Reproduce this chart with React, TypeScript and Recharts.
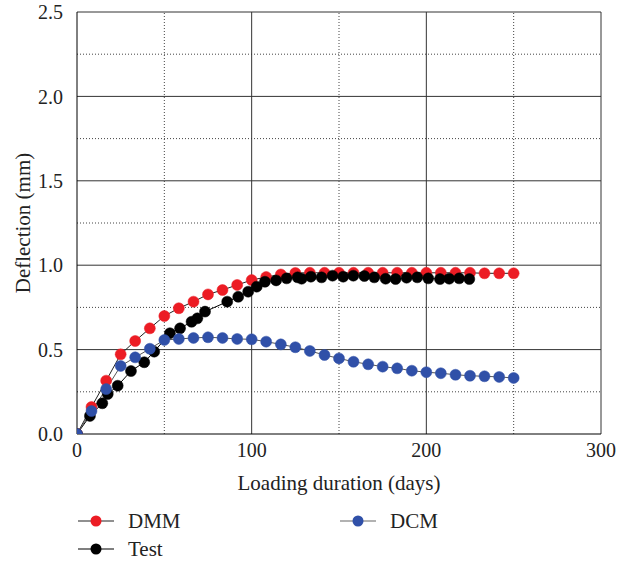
import React from "react";
import { LineChart, Line, XAxis, YAxis, ReferenceLine } from "recharts";

const dmmDays = [0, 8.3, 16.7, 25, 33.3, 41.7, 50, 58.3, 66.7, 75, 83.3, 91.7, 100, 108.3, 116.7, 125, 133.3, 141.7, 150, 158.3, 166.7, 175, 183.3, 191.7, 200, 208.3, 216.7, 225, 233.3, 241.7, 250];
const dmmValues = [0, 0.16, 0.316, 0.472, 0.551, 0.626, 0.699, 0.745, 0.784, 0.827, 0.853, 0.883, 0.912, 0.93, 0.945, 0.954, 0.955, 0.955, 0.955, 0.955, 0.955, 0.955, 0.955, 0.955, 0.955, 0.955, 0.955, 0.955, 0.952, 0.952, 0.952];

const dcmDays = [0, 8.3, 16.7, 25, 33.3, 41.7, 50, 58.3, 66.7, 75, 83.3, 91.7, 100, 108.3, 116.7, 125, 133.3, 141.7, 150, 158.3, 166.7, 175, 183.3, 191.7, 200, 208.3, 216.7, 225, 233.3, 241.7, 250];
const dcmValues = [0, 0.136, 0.266, 0.403, 0.454, 0.505, 0.557, 0.563, 0.569, 0.573, 0.569, 0.563, 0.561, 0.547, 0.531, 0.514, 0.492, 0.468, 0.448, 0.428, 0.413, 0.399, 0.389, 0.375, 0.366, 0.36, 0.351, 0.345, 0.342, 0.338, 0.332];

const testDays = [0, 7.4, 14.5, 17.6, 23.3, 30.9, 38.5, 44.2, 53.2, 59, 65.6, 68.9, 73.3, 86, 92.3, 98, 102.9, 107.6, 114, 120, 126.3, 128.6, 133.9, 140, 146.3, 152.4, 158.2, 164.5, 170.2, 176.7, 182.4, 188.7, 194.8, 201.1, 207.8, 213.1, 218.8, 224.6];
const testValues = [0, 0.107, 0.182, 0.237, 0.286, 0.373, 0.425, 0.488, 0.597, 0.626, 0.665, 0.685, 0.725, 0.784, 0.813, 0.843, 0.873, 0.902, 0.91, 0.922, 0.928, 0.92, 0.932, 0.928, 0.938, 0.932, 0.938, 0.936, 0.928, 0.92, 0.918, 0.926, 0.928, 0.922, 0.918, 0.92, 0.922, 0.918];

const xTicks = [0, 100, 200, 300];
const yTicks = [0, 0.5, 1.0, 1.5, 2.0, 2.5];
const xMajor = [100, 200, 300];
const xMinor = [50, 150, 250];
const yMajor = [0.5, 1.0, 1.5, 2.0, 2.5];
const yMinor = [0.25, 0.75, 1.25, 1.75, 2.25];

const toPoints = (xs: number[], ys: number[]) => xs.map((x, i) => ({ x, y: ys[i] }));
const dmmData = toPoints(dmmDays, dmmValues);
const dcmData = toPoints(dcmDays, dcmValues);
const testData = toPoints(testDays, testValues);

const RED = "#ec1c24";
const BLUE = "#3050a8";
const FONT = "'Liberation Serif', 'DejaVu Serif', serif";
const TXT = "#222";

const legendItems = [
  { name: "DMM", color: RED, line: "#222", left: 78, top: 0 },
  { name: "DCM", color: BLUE, line: "#666", left: 340, top: 0 },
  { name: "Test", color: "#000", line: "#000", left: 78, top: 28 },
];

const CustomLegend = () => (
  <div style={{ position: "absolute", left: 0, top: 511, width: 629, height: 60, fontFamily: FONT, fontSize: 21, color: TXT }}>
    {legendItems.map((it) => (
      <div key={it.name} style={{ position: "absolute", left: it.left, top: it.top, display: "flex", alignItems: "center", height: 20, lineHeight: "20px" }}>
        <svg width={38} height={14} style={{ display: "block" }}>
          <line x1={0} y1={7} x2={36} y2={7} stroke={it.line} strokeWidth={1.2} />
          <circle cx={18} cy={7} r={5.5} fill={it.color} />
        </svg>
        <span style={{ marginLeft: 12 }}>{it.name}</span>
      </div>
    ))}
  </div>
);

export default function App() {
  return (
    <div style={{ position: "absolute", left: 0, top: 0, width: 629, height: 571, background: "#fff" }}>
      <LineChart width={629} height={571} margin={{ top: 12, right: 28, left: 17, bottom: 79 }}>
        <XAxis
          type="number"
          dataKey="x"
          domain={[0, 300]}
          ticks={xTicks}
          allowDataOverflow
          tickLine={false}
          axisLine={{ stroke: "#000", strokeWidth: 1 }}
          tick={{ fill: TXT, fontSize: 20, fontFamily: FONT }}
          tickMargin={3}
          height={58}
          label={{ value: "Loading duration (days)", position: "insideBottom", offset: 2, fill: TXT, fontSize: 21, fontFamily: FONT }}
        />
        <YAxis
          type="number"
          domain={[0, 2.5]}
          ticks={yTicks}
          allowDataOverflow
          tickLine={false}
          axisLine={{ stroke: "#000", strokeWidth: 1 }}
          tick={{ fill: TXT, fontSize: 20, fontFamily: FONT }}
          tickFormatter={(v: number) => v.toFixed(1)}
          tickMargin={8}
          width={60}
          label={{ value: "Deflection (mm)", angle: -90, position: "insideLeft", offset: 0, dx: 6, style: { textAnchor: "middle" }, fill: TXT, fontSize: 21, fontFamily: FONT }}
        />
        {xMinor.map((v) => (
          <ReferenceLine key={"xm" + v} x={v} stroke="#444" strokeWidth={1} strokeDasharray="1 2" />
        ))}
        {yMinor.map((v) => (
          <ReferenceLine key={"ym" + v} y={v} stroke="#444" strokeWidth={1} strokeDasharray="1 2" />
        ))}
        {xMajor.map((v) => (
          <ReferenceLine key={"xM" + v} x={v} stroke="#333" strokeWidth={1} />
        ))}
        {yMajor.map((v) => (
          <ReferenceLine key={"yM" + v} y={v} stroke="#333" strokeWidth={1} />
        ))}
        <Line
          data={dmmData}
          dataKey="y"
          name="DMM"
          stroke="#222"
          strokeWidth={1}
          dot={{ r: 5.5, fill: RED, stroke: RED, strokeWidth: 0.5 }}
          isAnimationActive={false}
        />
        <Line
          data={testData}
          dataKey="y"
          name="Test"
          stroke="#000"
          strokeWidth={1}
          dot={{ r: 5.5, fill: "#000", stroke: "#000", strokeWidth: 0.5 }}
          isAnimationActive={false}
        />
        <Line
          data={dcmData}
          dataKey="y"
          name="DCM"
          stroke="#555"
          strokeWidth={1}
          dot={{ r: 5.5, fill: BLUE, stroke: BLUE, strokeWidth: 0.5 }}
          isAnimationActive={false}
        />
      </LineChart>
      <CustomLegend />
    </div>
  );
}
